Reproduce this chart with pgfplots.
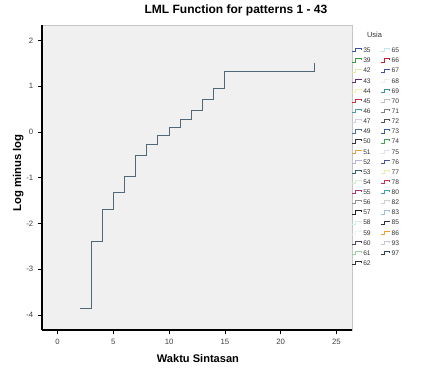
\documentclass[border=0pt]{standalone}
\usepackage{fontspec}
\setmainfont{Liberation Sans}
\usepackage{pgfplots}
\pgfplotsset{compat=1.18}
\definecolor{plotbg}{HTML}{F0F0F0}
\definecolor{mainline}{RGB}{80,105,120}
\definecolor{c35}{HTML}{3F4FA0}
\definecolor{c39}{HTML}{3A9A3A}
\definecolor{c42}{HTML}{E8E8A0}
\definecolor{c43}{HTML}{6A2A7A}
\definecolor{c44}{HTML}{F5F0B0}
\definecolor{c45}{HTML}{D03040}
\definecolor{c46}{HTML}{4AA0A0}
\definecolor{c47}{HTML}{D0D0E0}
\definecolor{c49}{HTML}{5070A0}
\definecolor{c50}{HTML}{303040}
\definecolor{c51}{HTML}{E0A040}
\definecolor{c52}{HTML}{C0B0E0}
\definecolor{c53}{HTML}{306070}
\definecolor{c54}{HTML}{D0F0D0}
\definecolor{c55}{HTML}{B03070}
\definecolor{c56}{HTML}{909090}
\definecolor{c57}{HTML}{202020}
\definecolor{c58}{HTML}{D0F0F0}
\definecolor{c59}{HTML}{F0F0F0}
\definecolor{c60}{HTML}{504060}
\definecolor{c61}{HTML}{A0D0A0}
\definecolor{c62}{HTML}{303030}
\definecolor{c65}{HTML}{C0E8F0}
\definecolor{c66}{HTML}{C02030}
\definecolor{c67}{HTML}{4050A0}
\definecolor{c68}{HTML}{F0F0E0}
\definecolor{c69}{HTML}{3A90A0}
\definecolor{c70}{HTML}{C0C0C0}
\definecolor{c71}{HTML}{808080}
\definecolor{c72}{HTML}{505050}
\definecolor{c73}{HTML}{3060A0}
\definecolor{c74}{HTML}{40A050}
\definecolor{c75}{HTML}{E0E0F0}
\definecolor{c76}{HTML}{5050A0}
\definecolor{c77}{HTML}{F0E8B0}
\definecolor{c78}{HTML}{D03050}
\definecolor{c80}{HTML}{40A0B0}
\definecolor{c82}{HTML}{D0D0D0}
\definecolor{c83}{HTML}{A0C0E0}
\definecolor{c85}{HTML}{303040}
\definecolor{c86}{HTML}{F0A030}
\definecolor{c93}{HTML}{D0C0E0}
\definecolor{c97}{HTML}{304050}
\begin{document}
\begin{tikzpicture}
\path[use as bounding box, fill=white] (0,0) rectangle (315.75pt,281.25pt);
\begin{axis}[
  at={(31.5pt,33.75pt)}, anchor=south west,
  scale only axis, width=232.5pt, height=228.75pt,
  xmin=-1.4, xmax=26.4, ymin=-4.33, ymax=2.34,
  axis x line*=bottom, axis y line*=left,
  axis line style={black, line width=0.9pt, -},
  axis background/.style={fill=plotbg, draw=gray!45, line width=0.5pt},
  xtick={0,5,10,15,20,25}, ytick={-4,-3,-2,-1,0,1,2},
  tick align=outside, major tick length=3pt,
  tick style={black, line width=0.5pt},
  tick label style={font=\fontsize{5.8}{7}\selectfont, text=black!75},
  /pgf/number format/assume math mode=true,
  xlabel={Waktu Sintasan},
  xlabel style={at={(axis description cs:0.503,-0.092)}, anchor=center, font=\bfseries\fontsize{8.3}{10}\selectfont},
  ylabel={Log minus log},
  ylabel style={at={(axis description cs:-0.077,0.515)}, anchor=center, font=\bfseries\fontsize{8.5}{10}\selectfont},
  legend columns=2,
  legend image code/.code={\draw[#1, line width=0.6pt] (0pt,-1.2pt) -- (2.6pt,-1.2pt) -- (2.6pt,1.2pt) -- (6.75pt,1.2pt) -- (6.75pt,0.2pt);},
  legend style={at={(axis description cs:1.0,0.925)}, anchor=north west, draw=none, fill=none,
    inner sep=0pt, outer sep=0pt, row sep=4pt, column sep=1.1pt,
    font=\fontsize{5}{6}\selectfont,
    nodes={inner sep=0pt, text height=3.6pt, text depth=0pt, text=black!80},
    /tikz/every even column/.append style={column sep=7.2pt}},
  legend cell align=left,
]
\addplot[const plot, color=mainline, line width=0.75pt, forget plot] coordinates {
 (2,-3.85) (3,-2.39) (4,-1.70) (5,-1.33) (6,-0.98) (7,-0.51) (8,-0.27)
 (9,-0.07) (10,0.09) (11,0.28) (12,0.47) (13,0.71) (14,0.96) (15,1.32) (23,1.50)
};
\addlegendimage{c35}\addlegendentry{35}
\addlegendimage{c65}\addlegendentry{65}
\addlegendimage{c39}\addlegendentry{39}
\addlegendimage{c66}\addlegendentry{66}
\addlegendimage{c42}\addlegendentry{42}
\addlegendimage{c67}\addlegendentry{67}
\addlegendimage{c43}\addlegendentry{43}
\addlegendimage{c68}\addlegendentry{68}
\addlegendimage{c44}\addlegendentry{44}
\addlegendimage{c69}\addlegendentry{69}
\addlegendimage{c45}\addlegendentry{45}
\addlegendimage{c70}\addlegendentry{70}
\addlegendimage{c46}\addlegendentry{46}
\addlegendimage{c71}\addlegendentry{71}
\addlegendimage{c47}\addlegendentry{47}
\addlegendimage{c72}\addlegendentry{72}
\addlegendimage{c49}\addlegendentry{49}
\addlegendimage{c73}\addlegendentry{73}
\addlegendimage{c50}\addlegendentry{50}
\addlegendimage{c74}\addlegendentry{74}
\addlegendimage{c51}\addlegendentry{51}
\addlegendimage{c75}\addlegendentry{75}
\addlegendimage{c52}\addlegendentry{52}
\addlegendimage{c76}\addlegendentry{76}
\addlegendimage{c53}\addlegendentry{53}
\addlegendimage{c77}\addlegendentry{77}
\addlegendimage{c54}\addlegendentry{54}
\addlegendimage{c78}\addlegendentry{78}
\addlegendimage{c55}\addlegendentry{55}
\addlegendimage{c80}\addlegendentry{80}
\addlegendimage{c56}\addlegendentry{56}
\addlegendimage{c82}\addlegendentry{82}
\addlegendimage{c57}\addlegendentry{57}
\addlegendimage{c83}\addlegendentry{83}
\addlegendimage{c58}\addlegendentry{58}
\addlegendimage{c85}\addlegendentry{85}
\addlegendimage{c59}\addlegendentry{59}
\addlegendimage{c86}\addlegendentry{86}
\addlegendimage{c60}\addlegendentry{60}
\addlegendimage{c93}\addlegendentry{93}
\addlegendimage{c61}\addlegendentry{61}
\addlegendimage{c97}\addlegendentry{97}
\addlegendimage{c62}\addlegendentry{62}
\end{axis}
\node[font=\fontsize{5.6}{7}\selectfont, text=black!80] at (280.9pt,255pt) {Usia};
\node[font=\bfseries\fontsize{9}{11}\selectfont, anchor=center] at (177pt,273.5pt) {LML Function for patterns 1 - 43};
\end{tikzpicture}
\end{document}
